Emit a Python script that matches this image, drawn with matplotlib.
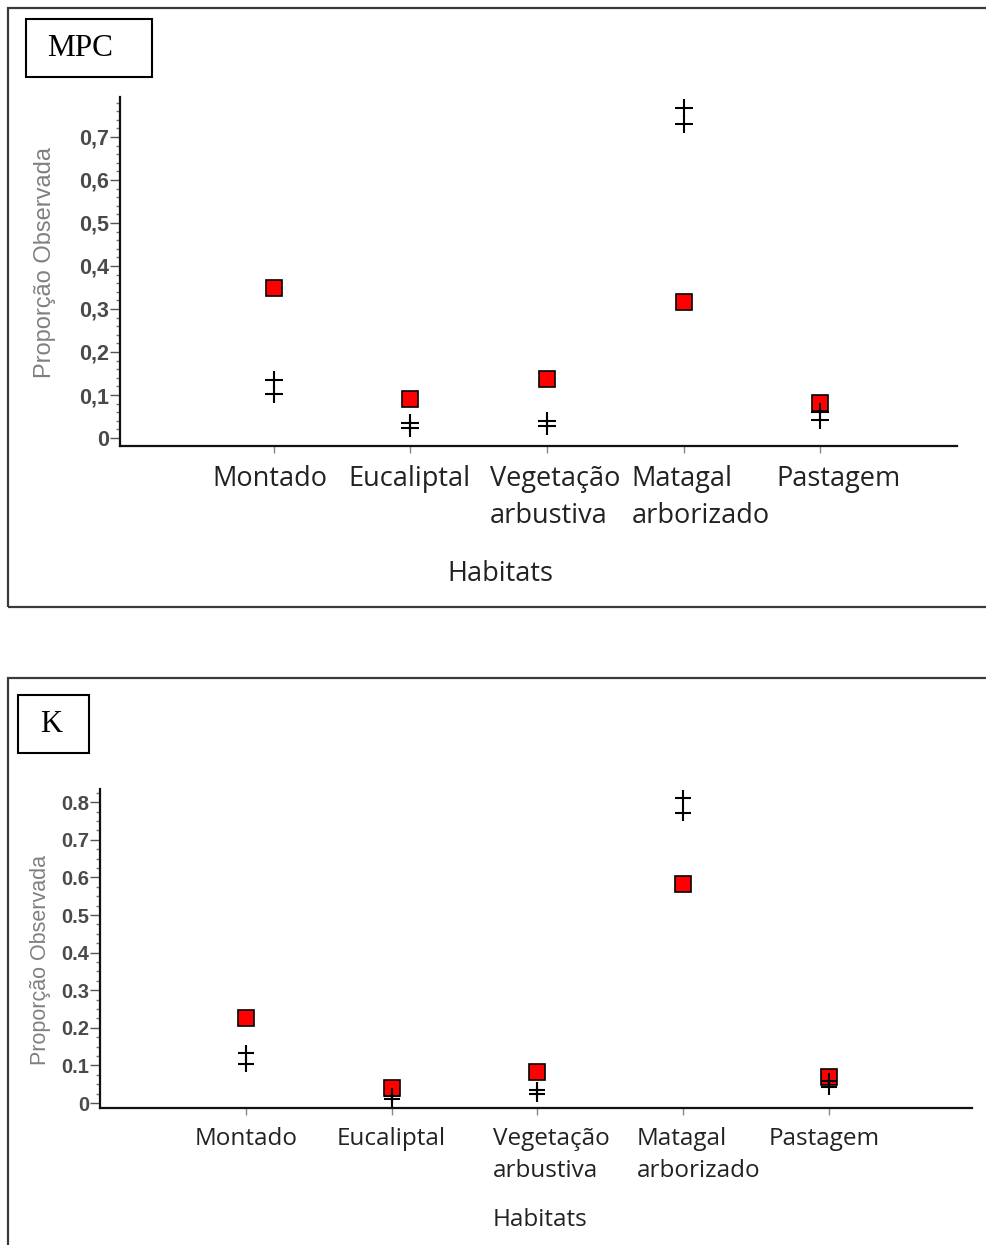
import matplotlib
matplotlib.use("Agg")
import matplotlib.pyplot as plt
import matplotlib.transforms as mtransforms
from matplotlib.patches import Rectangle
from matplotlib.ticker import FuncFormatter, MultipleLocator

habitats = ["Montado", "Eucaliptal", "Vegetação\narbustiva", "Matagal\narborizado", "Pastagem"]

# MPC panel
mpc_obs = [0.349, 0.091, 0.137, 0.316, 0.081]
mpc_lo = [0.102, 0.023, 0.028, 0.730, 0.042]
mpc_hi = [0.135, 0.035, 0.040, 0.767, 0.060]

# K panel
k_obs = [0.226, 0.040, 0.083, 0.582, 0.069]
k_lo = [0.104, 0.011, 0.024, 0.771, 0.043]
k_hi = [0.133, 0.019, 0.035, 0.811, 0.059]

W, H = 986, 1245
fig = plt.figure(figsize=(W / 100, H / 100), dpi=100)
fig.patch.set_facecolor("white")


def px_axes(x0, y0, x1, y1):
    return fig.add_axes([x0 / W, 1 - y1 / H, (x1 - x0) / W, (y1 - y0) / H])


def fig_box(x0, y0, x1, y1, **kw):
    fig.patches.append(Rectangle((x0 / W, 1 - y1 / H), (x1 - x0) / W, (y1 - y0) / H,
                                 transform=fig.transFigure, fill=False, **kw))


def panel(ax, obs, lo, hi, ylim, xlim, minor, sep, fs, msq, mplus, ylab_fs, ylab_pos, tick_fs, nudge):
    x = list(range(len(habitats)))
    ax.plot(x, obs, ls="none", marker="s", ms=msq, mfc="#ff0000", mec="black", mew=1.2, zorder=3)
    ax.plot(x, lo, ls="none", marker="+", ms=mplus, color="black", mew=1.5, zorder=4)
    ax.plot(x, hi, ls="none", marker="+", ms=mplus, color="black", mew=1.5, zorder=4)
    ax.set_xlim(*xlim)
    ax.set_ylim(*ylim)
    for s in ("top", "right"):
        ax.spines[s].set_visible(False)
    for s in ("left", "bottom"):
        ax.spines[s].set_linewidth(1.6)
        ax.spines[s].set_color("#111111")
    ax.yaxis.set_major_locator(MultipleLocator(0.1))
    ax.yaxis.set_minor_locator(MultipleLocator(minor))
    ax.yaxis.set_major_formatter(FuncFormatter(
        lambda v, p: "0" if abs(v) < 1e-9 else f"{v:.1f}".replace(".", sep)))
    ax.tick_params(axis="y", which="major", length=7, width=1, color="#555555",
                   labelsize=tick_fs, labelcolor="#4a4a4a", pad=1)
    ax.tick_params(axis="y", which="minor", length=3, width=1, color="#777777")
    for lab in ax.get_yticklabels():
        lab.set_family("Liberation Sans")
        lab.set_weight("bold")
    ax.set_xticks(x)
    ax.set_xticklabels(habitats, fontsize=fs, family="Open Sans", color="#222222",
                       linespacing=1.4, multialignment="left", va="top")
    ax.tick_params(axis="x", length=5, width=1, color="#888888", pad=9)
    # the source program does not centre its labels exactly under the ticks
    for lab, dx in zip(ax.get_xticklabels(), nudge):
        lab.set_transform(lab.get_transform() +
                          mtransforms.ScaledTranslation(dx / 100, 0, fig.dpi_scale_trans))
    ax.set_ylabel("Proporção Observada", fontsize=ylab_fs, family="Liberation Sans", color="#808080")
    ax.yaxis.set_label_coords(*ylab_pos)


# top panel frame and label
fig_box(8, 8, 1000, 607, lw=1.6, edgecolor="#3a3a3a")
fig_box(26, 19, 152, 77, lw=1.5, edgecolor="black")
fig.text(47 / W, 1 - 49 / H, "MPC", fontsize=22.5, family="Liberation Serif", va="center", ha="left")

ax1 = px_axes(120, 97, 957, 446)
panel(ax1, mpc_obs, mpc_lo, mpc_hi, (-0.0186, 0.793), (-1.124, 5.0), 0.02, ",",
      19.5, 12.2, 13, 17, (-0.077, 0.527), 15.5, [-4, -1, 8, 17, 18])
fig.text(500 / W, 1 - 574 / H, "Habitats", fontsize=19.5, family="Open Sans", color="#222222",
         ha="center", va="center")

# bottom panel frame and label
fig_box(8, 678, 1000, 1260, lw=1.6, edgecolor="#3a3a3a")
fig_box(18, 695, 89, 753, lw=1.5, edgecolor="black")
fig.text(40 / W, 1 - 725 / H, "K", fontsize=22, family="Liberation Serif", va="center", ha="left")

ax2 = px_axes(100, 789, 972, 1108)
panel(ax2, k_obs, k_lo, k_hi, (-0.013, 0.835), (-1.0, 4.98), 0.025, ".",
      17.5, 11.5, 12, 15.5, (-0.056, 0.464), 14.5, [0, 0, 14, 15, -5])
fig.text(540 / W, 1 - 1220 / H, "Habitats", fontsize=17.5, family="Open Sans", color="#222222",
         ha="center", va="center")

fig.savefig("out.png", dpi=100)
